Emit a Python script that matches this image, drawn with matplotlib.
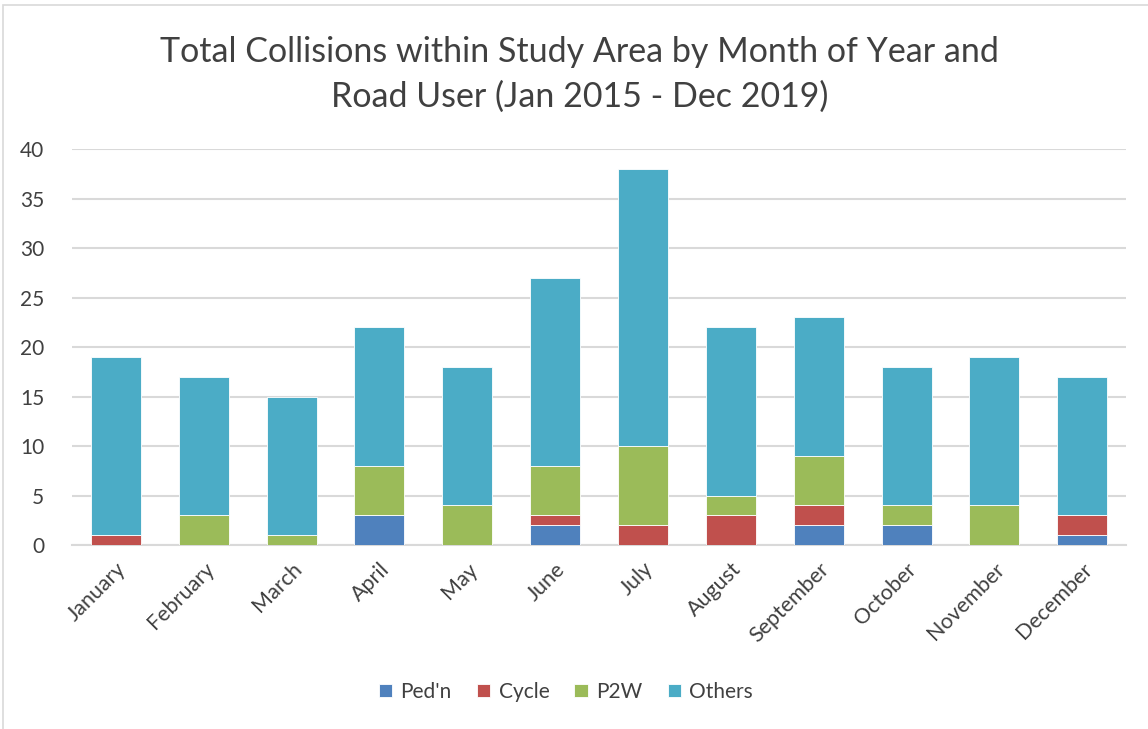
import matplotlib
matplotlib.use("Agg")
from matplotlib import pyplot as plt
from matplotlib.patches import Rectangle
import numpy as np

months = ["January", "February", "March", "April", "May", "June", "July",
          "August", "September", "October", "November", "December"]
pedn = [0, 0, 0, 3, 0, 2, 0, 0, 2, 2, 0, 1]
cycle = [1, 0, 0, 0, 0, 1, 2, 3, 2, 0, 0, 2]
p2w = [0, 3, 1, 5, 4, 5, 8, 2, 5, 2, 4, 0]
others = [18, 14, 14, 14, 14, 19, 28, 17, 14, 14, 15, 14]

series = [("Ped'n", pedn, "#4F81BD"),
          ("Cycle", cycle, "#C0504D"),
          ("P2W", p2w, "#9BBB59"),
          ("Others", others, "#4BACC6")]

plt.rcParams['font.family'] = ['Lato', 'DejaVu Sans']
texte = "#404040"

fig = plt.figure(figsize=(11.48, 7.29), dpi=100)
ax = fig.add_axes([0.0627, 0.2524, 0.9183, 0.5432])

x = np.arange(len(months))
bas = np.zeros(len(months))
for nom, valeurs, couleur in series:
    ax.bar(x, valeurs, width=0.57, bottom=bas, color=couleur, label=nom,
           edgecolor="white", linewidth=0.6, zorder=3)
    bas = bas + np.array(valeurs)

ax.set_xlim(-0.5, len(months) - 0.5)
ax.set_ylim(0, 40)
ax.set_yticks(range(0, 41, 5))
ax.yaxis.grid(True, color="#D9D9D9", linewidth=1.5, zorder=0)
for s in ["top", "right", "left"]:
    ax.spines[s].set_visible(False)
ax.spines["bottom"].set_color("#D9D9D9")
ax.spines["bottom"].set_linewidth(1.5)
ax.tick_params(axis="y", length=0, labelsize=15, colors=texte, pad=20)
ax.tick_params(axis="x", length=0, labelsize=15.5, colors=texte, pad=10)
ax.set_xticks(x)
ax.set_xticklabels(months, rotation=45, ha="right", rotation_mode="anchor")

fig.text(0.505, 0.898, "Total Collisions within Study Area by Month of Year and\nRoad User (Jan 2015 - Dec 2019)",
         ha="center", va="center", fontsize=24.5, color=texte, linespacing=1.45)

fig.legend(loc="center", bbox_to_anchor=(0.493, 0.051), ncol=4, frameon=False,
           fontsize=15, handlelength=0.65, handleheight=0.65, columnspacing=1.2,
           handletextpad=0.4, labelcolor=texte)

# cadre du graphique
fig.patches.append(Rectangle((3 / 1148, -0.01), 1.2, 1 - 5 / 729 + 0.01,
                             transform=fig.transFigure, fill=False,
                             edgecolor="#D9D9D9", linewidth=1.2))

fig.savefig("out.png", dpi=100)
